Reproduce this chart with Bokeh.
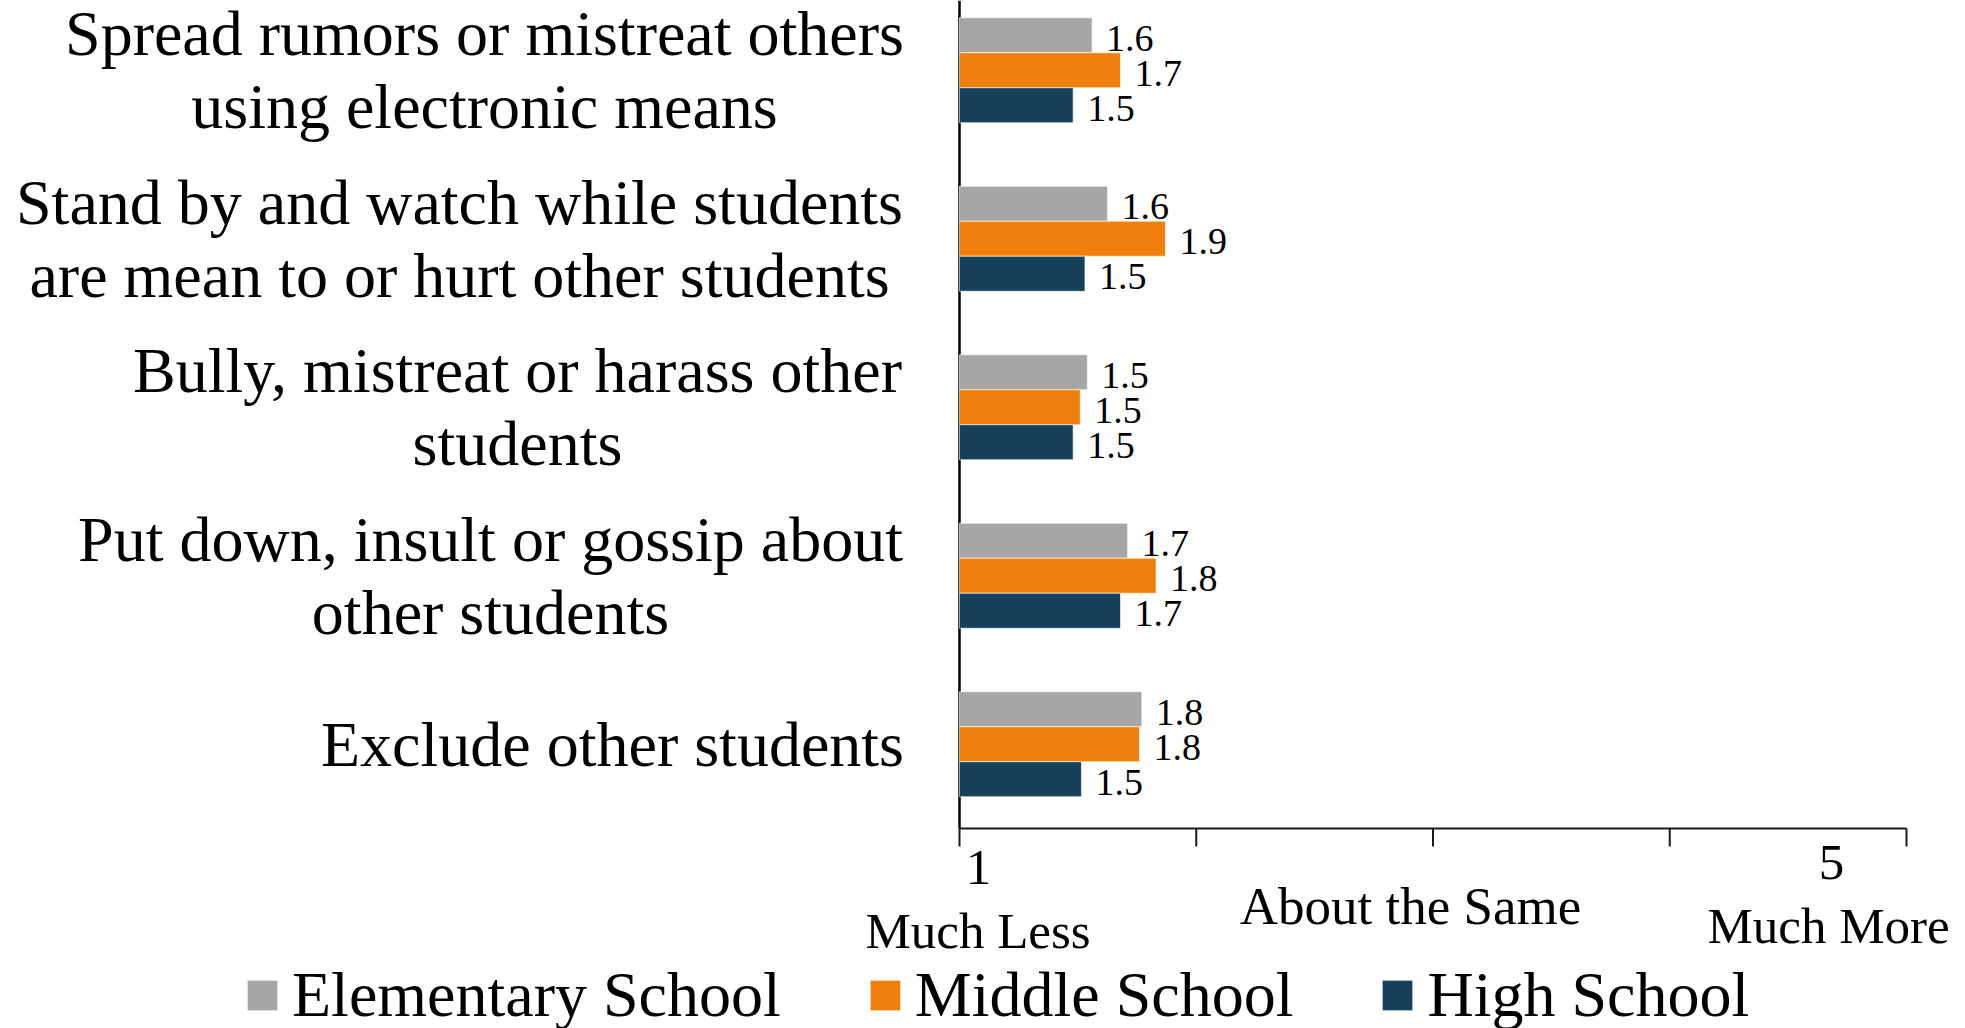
from bokeh.plotting import figure
from bokeh.models import (Range1d, LabelSet, ColumnDataSource, Legend, LegendItem)
from bokeh.core.properties import value
from bokeh.embed import file_html
from bokeh.resources import INLINE

# ---------------- data ----------------
categories = [
    "Spread rumors or mistreat others\nusing electronic means",
    "Stand by and watch while students\nare mean to or hurt other students",
    "Bully, mistreat or harass other\nstudents",
    "Put down, insult or gossip about\nother students",
    "Exclude other students",
]
series_names = ["Elementary School", "Middle School", "High School"]
elementary = [1.56, 1.625, 1.54, 1.71, 1.77]
middle = [1.68, 1.87, 1.51, 1.83, 1.76]
high = [1.48, 1.53, 1.48, 1.68, 1.515]
x_ticks = [1, 2, 3, 4, 5]
end_labels = ["1", "5"]
scale_labels = ["Much Less", "About the Same", "Much More"]

# ---------------- layout / styling ----------------
colors = ["#A6A6A6", "#F0800B", "#17405A"]
FONT = "Liberation Serif"
W, H = 1965, 1028
AX_LEFT, AX_RIGHT, AX_BOTTOM = 959, 1906, 828      # pixel position of the value axis
ux = (AX_RIGHT - AX_LEFT) / (x_ticks[-1] - x_ticks[0])   # px per unit
uy = 168.5                                          # px per category
bh = 35.0 / uy
n = len(categories)
pos = [n - 0.5 - i for i in range(n)]
offsets = [bh, 0.0, -bh]


def xd(px):
    return x_ticks[0] + (px - AX_LEFT) / ux


def yd(py):
    return (AX_BOTTOM - py) / uy


p = figure(width=W, height=H,
           x_range=Range1d(xd(0), xd(W)), y_range=Range1d(yd(H), yd(0)),
           x_axis_location=None, y_axis_location=None,
           output_backend="svg", toolbar_location=None, min_border=0)
p.outline_line_color = None
p.xgrid.visible = False
p.ygrid.visible = False
p.background_fill_color = "white"
p.border_fill_color = "white"

# axes drawn as segments
p.segment(x0=[x_ticks[0]], y0=[0], x1=[x_ticks[0]], y1=[yd(0)],
          line_color="#000000", line_width=2.5)
p.segment(x0=[x_ticks[0]], y0=[0], x1=[x_ticks[-1]], y1=[0],
          line_color="#1a1a1a", line_width=2)
p.segment(x0=x_ticks, y0=[0] * len(x_ticks), x1=x_ticks, y1=[-18 / uy] * len(x_ticks),
          line_color="#1a1a1a", line_width=2)

renderers = []
for vals, col, off in zip([elementary, middle, high], colors, offsets):
    src = ColumnDataSource(dict(
        y=[q + off for q in pos],
        right=vals,
        label=[f"{v:.1f}" for v in vals],
    ))
    r = p.hbar(y="y", left=x_ticks[0], right="right", height=bh, source=src,
               fill_color=col, line_color="white", line_width=1, line_alpha=0.6)
    renderers.append(r)
    p.add_layout(LabelSet(x="right", y="y", text="label", source=src,
                          x_offset=14, y_offset=-3, text_baseline="middle",
                          text_align="left", text_font=value(FONT),
                          text_font_size="38px", text_color="black"))

# category labels (centre of each label block, in px)
label_cx = [484, 459, 517, 490, 612]
p.text(x=[xd(c) for c in label_cx], y=pos, text=categories,
       text_align="center", text_baseline="middle",
       text_font=value(FONT), text_font_size="64px",
       text_line_height=1.035, text_color="black")

# scale labels under the axis
p.text(x=[xd(978), xd(1831)], y=[yd(867), yd(862)], text=end_labels,
       text_align="center", text_baseline="alphabetic",
       text_font=value(FONT), text_font_size="51px", text_color="black")
p.text(x=[xd(977.5), xd(1410), xd(1828)], y=[yd(930), yd(905), yd(925)], text=scale_labels,
       text_align="center", text_baseline="alphabetic",
       text_font=value(FONT), text_font_size=["51px", "53px", "51px"], text_color="black")

# legend (area glyphs are inset by 10% on each side inside the glyph box)
gw = 38
inset = 4
legend = Legend(items=[LegendItem(label=nm, renderers=[r]) for nm, r in zip(series_names, renderers)],
                orientation="horizontal", location=(247 - inset, -4),
                glyph_width=gw, glyph_height=gw, label_standoff=15 - inset, spacing=89 - inset,
                padding=0, margin=0, border_line_alpha=0, background_fill_alpha=0,
                label_text_font=FONT, label_text_font_size="64px",
                label_text_baseline="middle", label_text_color="black")
p.add_layout(legend, "center")

open("out.html", "w").write(file_html(p, INLINE))
